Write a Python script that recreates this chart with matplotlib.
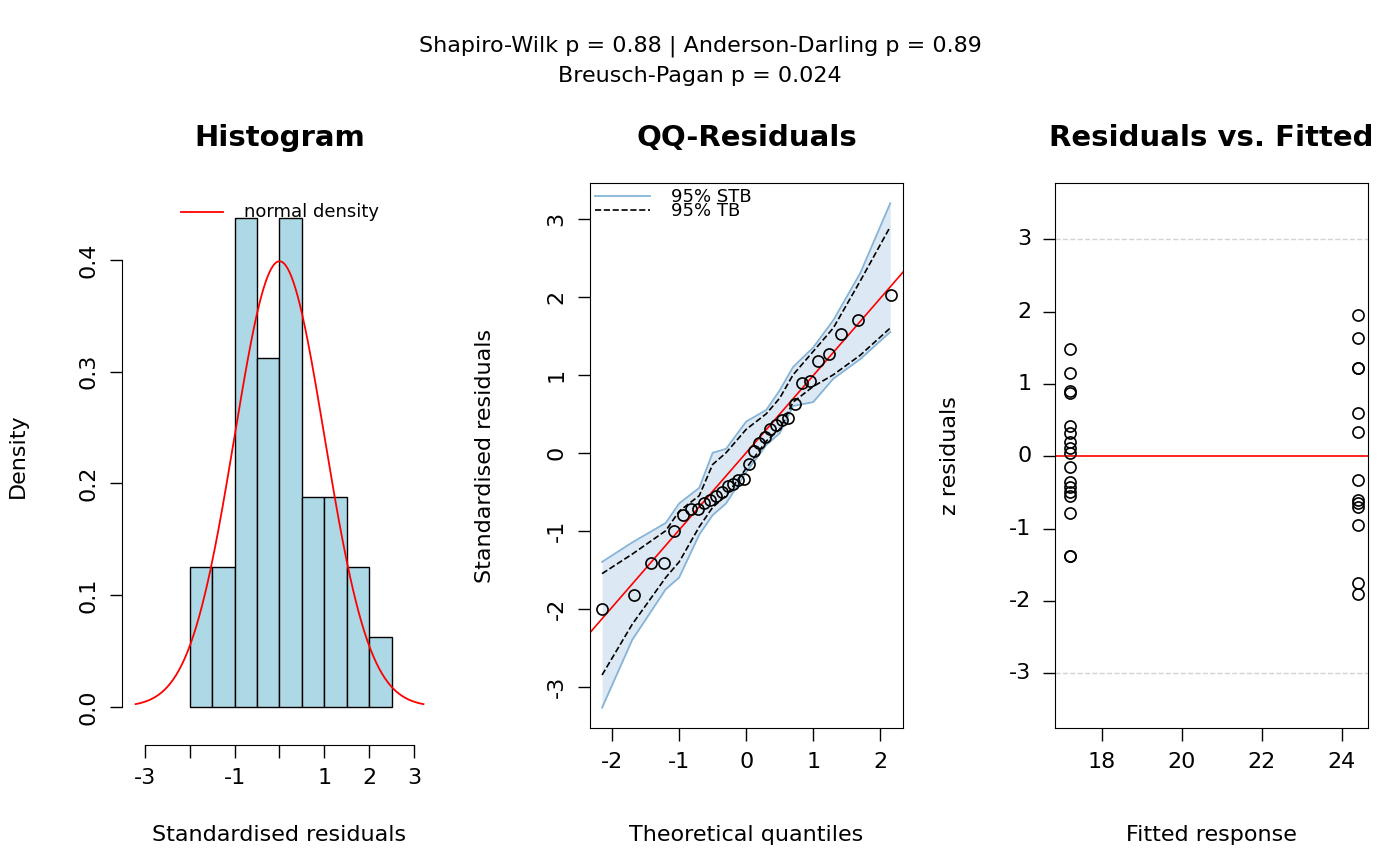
import numpy as np
import matplotlib.pyplot as plt
from statistics import NormalDist

# histogram (bin edges and densities)
hist_edges = [-2.0, -1.5, -1.0, -0.5, 0.0, 0.5, 1.0, 1.5, 2.0, 2.5]
hist_dens = [0.125, 0.125, 0.4375, 0.3125, 0.4375, 0.1875, 0.1875, 0.125, 0.0625]

# QQ residuals (sorted standardised residuals)
qq_resid = [-2.0, -1.82, -1.42, -1.42, -1.0, -0.8, -0.72, -0.72, -0.65, -0.6,
            -0.55, -0.5, -0.42, -0.4, -0.35, -0.33, -0.15, 0.02, 0.12, 0.2,
            0.3, 0.35, 0.42, 0.45, 0.62, 0.9, 0.92, 1.18, 1.27, 1.52, 1.7, 2.02]
band_x = [-2.15, -1.7, -1.2, -1.0, -0.7, -0.5, -0.3, 0.0, 0.3, 0.5, 0.7, 1.0, 1.3, 1.7, 2.15]
stb_hi = [-1.4, -1.15, -0.9, -0.65, -0.45, 0.0, 0.05, 0.4, 0.55, 0.8, 1.1, 1.35, 1.7, 2.3, 3.2]
stb_lo = [-3.27, -2.4, -1.75, -1.6, -1.05, -0.8, -0.65, -0.25, 0.1, 0.25, 0.6, 0.65, 0.95, 1.2, 1.55]
tb_hi = [-1.55, -1.3, -1.0, -0.75, -0.55, -0.15, 0.0, 0.3, 0.5, 0.7, 1.0, 1.3, 1.6, 2.2, 2.9]
tb_lo = [-2.85, -2.2, -1.6, -1.4, -0.95, -0.7, -0.55, -0.2, 0.15, 0.3, 0.65, 0.85, 1.0, 1.25, 1.6]

# residuals vs fitted
fit_lo = 17.2
res_lo = [1.48, 1.15, 0.9, 0.88, 0.42, 0.32, 0.2, 0.12, 0.05, -0.15, -0.35,
          -0.42, -0.5, -0.55, -0.78, -1.38, -1.38]
fit_hi = 24.4
res_hi = [1.95, 1.63, 1.22, 1.22, 0.6, 0.33, -0.33, -0.6, -0.65, -0.7, -0.95,
          -1.75, -1.9]

plt.rcParams['font.size'] = 16
plt.rcParams['axes.unicode_minus'] = False
W, H = 1400, 866
fig = plt.figure(figsize=(14, 8.66), dpi=100)


def box(x0, x1, y0, y1):
    return [x0 / W, 1 - y1 / H, (x1 - x0) / W, (y1 - y0) / H]


fig.text(0.5, 1 - 46 / H, 'Shapiro-Wilk p = 0.88 | Anderson-Darling p = 0.89',
         ha='center', va='center', fontsize=16)
fig.text(0.5, 1 - 76 / H, 'Breusch-Pagan p = 0.024', ha='center', va='center',
         fontsize=16)


def style(ax, title, xl, yl, rot=90):
    ax.text(0.5, 1 + 45 / 545, title, transform=ax.transAxes, ha='center',
            va='center', fontweight='bold', fontsize=21)
    ax.set_xlabel(xl, va='center')
    ax.xaxis.set_label_coords(0.5, -107 / 545)
    ax.set_ylabel(yl, va='center')
    ax.yaxis.set_label_coords(-105 / 313, 0.5)
    for t in ax.get_yticklabels():
        t.set_rotation(rot)
        t.set_va('center')
    ax.tick_params(length=9, width=1, pad=8)


# Histogram
ax = fig.add_axes(box(123, 436, 183, 728))
ax.hist(hist_edges[:-1], bins=hist_edges, weights=hist_dens,
        color='lightblue', edgecolor='black', lw=1)
xs = np.linspace(-3.2, 3.2, 300)
ax.plot(xs, np.exp(-xs ** 2 / 2) / np.sqrt(2 * np.pi), color='red', lw=1.3)
ax.set_xlim(-3.48, 3.48)
ax.set_ylim(-0.019, 0.469)
for s in ['top', 'right']:
    ax.spines[s].set_visible(False)
ax.spines['bottom'].set_position(('outward', 12))
ax.spines['bottom'].set_bounds(-3, 3)
ax.spines['left'].set_position(('outward', 1))
ax.spines['left'].set_bounds(0, 0.4)
ax.set_xticks([-3, -2, -1, 0, 1, 2, 3], ['-3', '', '-1', '', '1', '2', '3'])
ax.set_yticks([0, 0.1, 0.2, 0.3, 0.4])
ax.plot([-2.18, -1.25], [0.443, 0.443], color='red', lw=1.3)
ax.text(-0.8, 0.443, 'normal density', va='center', fontsize=13)
style(ax, 'Histogram', 'Standardised residuals', 'Density')

# QQ
ax = fig.add_axes(box(590, 903, 183, 728))
n = len(qq_resid)
tq = [NormalDist().inv_cdf((i + 0.5) / n) for i in range(n)]
ax.fill_between(band_x, stb_lo, stb_hi, color='#dce9f4', lw=0)
ax.plot(band_x, stb_hi, color='#86b4d8', lw=1.3, label='95% STB')
ax.plot(band_x, stb_lo, color='#86b4d8', lw=1.3)
ax.plot(band_x, tb_hi, 'k--', lw=1.2, label='95% TB')
ax.plot(band_x, tb_lo, 'k--', lw=1.2)
xl = np.array([-2.4, 2.4])
ax.plot(xl, xl * 0.99, color='red', lw=1.2)
ax.plot(tq, qq_resid, 'o', mfc='none', mec='black', ms=8, mew=1.2)
ax.set_xlim(-2.33, 2.34)
ax.set_ylim(-3.53, 3.46)
ax.set_xticks([-2, -1, 0, 1, 2])
ax.set_yticks([-3, -2, -1, 0, 1, 2, 3])
ax.legend(loc='upper left', frameon=False, fontsize=13, handlelength=3,
          borderaxespad=0.1, labelspacing=-0.25, handletextpad=1.2,
          borderpad=0.2)
style(ax, 'QQ-Residuals', 'Theoretical quantiles', 'Standardised residuals')

# Residuals vs Fitted
ax = fig.add_axes(box(1055, 1368, 183, 728))
for yv in (3, -3):
    ax.axhline(yv, color='#d3d3d3', ls='--', lw=1)
ax.axhline(0, color='red', lw=1.2)
ax.plot([fit_lo] * len(res_lo), res_lo, 'o', mfc='none', mec='black', ms=8, mew=1.2)
ax.plot([fit_hi] * len(res_hi), res_hi, 'o', mfc='none', mec='black', ms=8, mew=1.2)
ax.set_xlim(16.83, 24.65)
ax.set_ylim(-3.76, 3.78)
ax.set_xticks([18, 20, 22, 24])
ax.set_yticks([-3, -2, -1, 0, 1, 2, 3])
style(ax, 'Residuals vs. Fitted', 'Fitted response', 'z residuals', rot=0)

fig.savefig('out.png', dpi=100)
